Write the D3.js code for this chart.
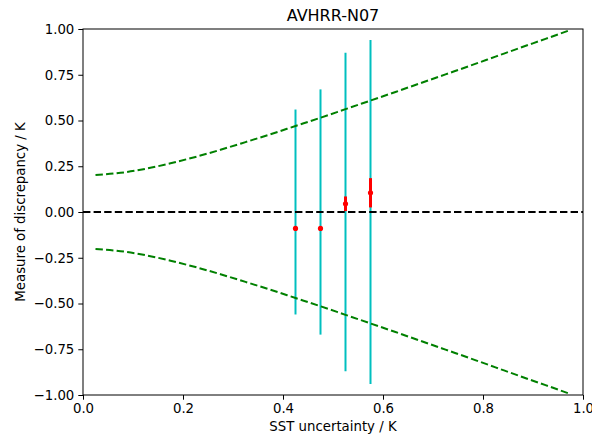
<!DOCTYPE html>
<html>
<head>
<meta charset="utf-8">
<script src="https://cdn.jsdelivr.net/npm/d3@7"></script>
<style>
  body { margin: 0; background: #fff; }
  text { font-family: "DejaVu Sans", sans-serif; fill: #000; }
</style>
</head>
<body>
<script>
// green dashed envelope, x and upper value; lower is mirrored
var envX = [0.025, 0.075, 0.125, 0.175, 0.225, 0.275, 0.325, 0.375, 0.425, 0.475,
            0.525, 0.575, 0.625, 0.675, 0.725, 0.775, 0.825, 0.875, 0.925, 0.975];
var envY = [0.202, 0.214, 0.236, 0.266, 0.301, 0.34, 0.382, 0.425, 0.47, 0.515,
            0.562, 0.609, 0.656, 0.704, 0.752, 0.80, 0.849, 0.898, 0.946, 0.995];

// cyan spread bars
var barX = [0.425, 0.475, 0.525, 0.575];
var barHalf = [0.56, 0.67, 0.87, 0.94];

// red points with error bars
var ptX = [0.425, 0.475, 0.525, 0.575];
var ptY = [-0.09, -0.09, 0.045, 0.105];
var ptErr = [0.01, 0.01, 0.04, 0.08];

var xTicks = [0, 0.2, 0.4, 0.6, 0.8, 1.0];
var yTicks = [-1, -0.75, -0.5, -0.25, 0, 0.25, 0.5, 0.75, 1];

var W = 592, H = 436;
var m = { left: 83, right: 9, top: 29, bottom: 41 };

var svg = d3.select("body").append("svg")
  .attr("width", W)
  .attr("height", H);

var x = d3.scaleLinear().domain([0, 1]).range([m.left, W - m.right]);
var y = d3.scaleLinear().domain([-1, 1]).range([H - m.bottom, m.top]);

var plot = svg.append("g");

// cyan vertical lines
plot.selectAll("line.spread")
  .data(barX)
  .enter()
  .append("line")
  .attr("class", "spread")
  .attr("x1", function(d) { return x(d); })
  .attr("x2", function(d) { return x(d); })
  .attr("y1", function(d, i) { return y(barHalf[i]); })
  .attr("y2", function(d, i) { return y(-barHalf[i]); })
  .attr("stroke", "#00bfbf")
  .attr("stroke-width", 2);

// envelopes
var line = d3.line()
  .curve(d3.curveMonotoneX)
  .x(function(d) { return x(d[0]); })
  .y(function(d) { return y(d[1]); });
var upper = envX.map(function(v, i) { return [v, envY[i]]; });
var lower = envX.map(function(v, i) { return [v, -envY[i]]; });
[upper, lower].forEach(function(pts) {
  plot.append("path")
    .attr("d", line(pts))
    .attr("fill", "none")
    .attr("stroke", "#008000")
    .attr("stroke-width", 2)
    .attr("stroke-dasharray", "7.4,3.2");
});

// zero line
plot.append("line")
  .attr("x1", x(0)).attr("x2", x(1))
  .attr("y1", y(0)).attr("y2", y(0))
  .attr("stroke", "#000")
  .attr("stroke-width", 2)
  .attr("stroke-dasharray", "7.4,3.2");

// red error bars and points
plot.selectAll("line.err")
  .data(ptX)
  .enter()
  .append("line")
  .attr("class", "err")
  .attr("x1", function(d) { return x(d); })
  .attr("x2", function(d) { return x(d); })
  .attr("y1", function(d, i) { return y(ptY[i] + ptErr[i]); })
  .attr("y2", function(d, i) { return y(ptY[i] - ptErr[i]); })
  .attr("stroke", "#ff0000")
  .attr("stroke-width", 3);
plot.selectAll("circle.pt")
  .data(ptX)
  .enter()
  .append("circle")
  .attr("class", "pt")
  .attr("cx", function(d) { return x(d); })
  .attr("cy", function(d, i) { return y(ptY[i]); })
  .attr("r", 2.6)
  .attr("fill", "#ff0000");

// frame
svg.append("rect")
  .attr("x", m.left).attr("y", m.top)
  .attr("width", W - m.right - m.left)
  .attr("height", H - m.bottom - m.top)
  .attr("fill", "none")
  .attr("stroke", "#000")
  .attr("stroke-width", 1);

// axes
var xAxis = svg.append("g")
  .attr("transform", "translate(0," + (H - m.bottom) + ")")
  .call(d3.axisBottom(x).tickValues(xTicks).tickFormat(d3.format(".1f")).tickSizeOuter(0).tickSize(4.7).tickPadding(4));
var yAxis = svg.append("g")
  .attr("transform", "translate(" + m.left + ",0)")
  .call(d3.axisLeft(y).tickValues(yTicks).tickFormat(d3.format(".2f")).tickSizeOuter(0).tickSize(4.7).tickPadding(4));
[xAxis, yAxis].forEach(function(a) {
  a.select(".domain").remove();
  a.selectAll("text").attr("font-size", 13.3).attr("font-family", "DejaVu Sans").attr("fill", "#000");
  a.selectAll("line").attr("stroke", "#000").attr("stroke-width", 1);
});

// title and labels
svg.append("text")
  .attr("x", (m.left + W - m.right) / 2)
  .attr("y", 21)
  .attr("text-anchor", "middle")
  .attr("font-size", 16)
  .text("AVHRR-N07");
svg.append("text")
  .attr("x", (m.left + W - m.right) / 2)
  .attr("y", 431)
  .attr("text-anchor", "middle")
  .attr("font-size", 13.3)
  .text("SST uncertainty / K");
svg.append("text")
  .attr("transform", "translate(25," + y(0) + ") rotate(-90)")
  .attr("text-anchor", "middle")
  .attr("font-size", 13.3)
  .text("Measure of discrepancy / K");
</script>
</body>
</html>
